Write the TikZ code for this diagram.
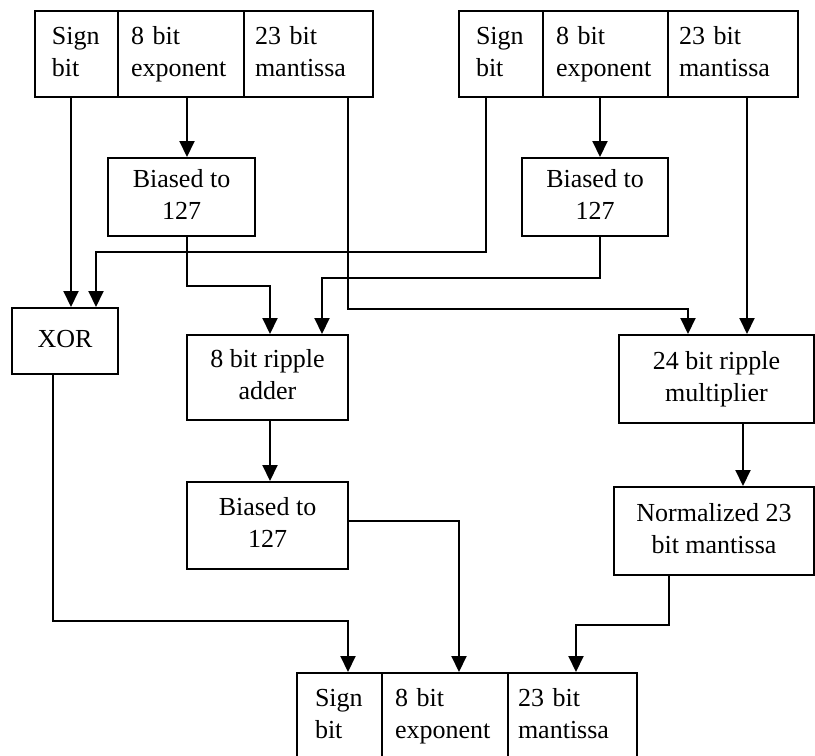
\documentclass[tikz,border=0pt]{standalone}
\usepackage{fontspec}
\setmainfont{Liberation Serif}
\usetikzlibrary{arrows.meta}
\begin{document}
\begin{tikzpicture}[x=1pt,y=-1pt,
  box/.style={draw, line width=2pt, rectangle, inner sep=0pt, align=center,
    font=\fontsize{26}{32}\selectfont},
  cell/.style={box, align=left, minimum height=86pt},
  arr/.style={line width=2pt, -{Triangle[width=15pt,length=16pt]}}]
\useasboundingbox (0,0) rectangle (815,756);
\clip (0,0) rectangle (815,756);

% top-left record
\node[cell, minimum width=83pt, text width=49pt, inner xsep=17pt] (tls) at (76.5,54) {Sign\strut\\bit\strut};
\node[cell, minimum width=126pt, text width=100pt, inner xsep=13pt] (tle) at (181,54) {8 bit\strut\\exponent\strut};
\node[cell, minimum width=129pt, text width=107pt, inner xsep=11pt] (tlm) at (308.5,54) {23 bit\strut\\mantissa\strut};
% top-right record
\node[cell, minimum width=84pt, text width=50pt, inner xsep=17pt] (trs) at (501,54) {Sign\strut\\bit\strut};
\node[cell, minimum width=125pt, text width=99pt, inner xsep=13pt] (tre) at (605.5,54) {8 bit\strut\\exponent\strut};
\node[cell, minimum width=130pt, text width=108pt, inner xsep=11pt] (trm) at (733,54) {23 bit\strut\\mantissa\strut};

% processing boxes
\node[box, minimum width=147pt, minimum height=78pt] (b1) at (181.5,197) {Biased to\strut\\127\strut};
\node[box, minimum width=146pt, minimum height=78pt] (b2) at (595,197) {Biased to\strut\\127\strut};
\node[box, minimum width=106pt, minimum height=66pt] (xor) at (65,341) {XOR\strut};
\node[box, minimum width=161pt, minimum height=85pt] (add) at (267.5,377.5) {8 bit ripple\strut\\adder\strut};
\node[box, minimum width=195pt, minimum height=88pt] (mult) at (716.5,379) {24 bit ripple\strut\\multiplier\strut};
\node[box, minimum width=161pt, minimum height=87pt] (b3) at (267.5,525.5) {Biased to\strut\\127\strut};
\node[box, minimum width=200pt, minimum height=88pt] (norm) at (714,531) {Normalized 23\strut\\bit mantissa\strut};

% bottom record
\node[cell, minimum width=85pt, text width=49pt, inner xsep=18pt] (bs) at (339.5,716) {Sign\strut\\bit\strut};
\node[cell, minimum width=126pt, text width=100pt, inner xsep=13pt] (be) at (445,716) {8 bit\strut\\exponent\strut};
\node[cell, minimum width=129pt, text width=109pt, inner xsep=10pt] (bm) at (572.5,716) {23 bit\strut\\mantissa\strut};

% connectors
\draw[arr] ([xshift=-5.5pt]tls.south) -- ([xshift=6pt]xor.north);
\draw[arr] ([xshift=6pt]tle.south) -- ([xshift=5.5pt]b1.north);
\draw[arr] ([xshift=39.5pt]tlm.south) -- ++(0,211) -| ([xshift=-28.5pt]mult.north);
\draw[arr] ([xshift=-15pt]trs.south) -- ++(0,154) -| ([xshift=31pt]xor.north);
\draw[arr] ([xshift=-5.5pt]tre.south) -- ([xshift=5pt]b2.north);
\draw[arr] ([xshift=14pt]trm.south) -- ([xshift=30.5pt]mult.north);
\draw[arr] ([xshift=5.5pt]b1.south) -- ++(0,49) -| ([xshift=2.5pt]add.north);
\draw[arr] ([xshift=5pt]b2.south) -- ++(0,41) -| ([xshift=54.5pt]add.north);
\draw[arr] ([xshift=2.5pt]add.south) -- ([xshift=2.5pt]b3.north);
\draw[arr] ([xshift=26.5pt]mult.south) -- ([xshift=29pt]norm.north);
\draw[arr] ([xshift=-12pt]xor.south) -- ++(0,246) -| ([xshift=8.5pt]bs.north);
\draw[arr] ([yshift=4.5pt]b3.east) -| ([xshift=14pt]be.north);
\draw[arr] ([xshift=-45pt]norm.south) -- ++(0,49) -| ([xshift=3.5pt]bm.north);
\end{tikzpicture}
\end{document}
